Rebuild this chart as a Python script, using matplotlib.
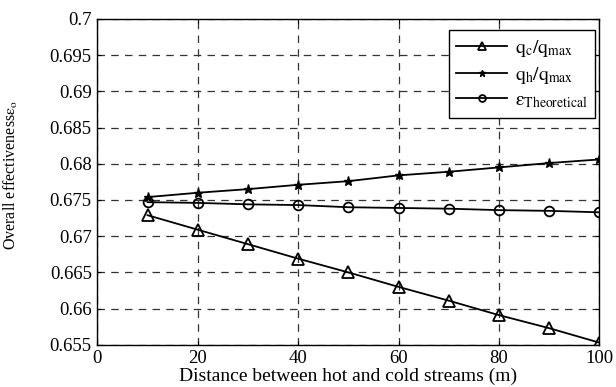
import numpy as np
import matplotlib.pyplot as plt

plt.rcParams['font.family'] = ['Liberation Serif', 'DejaVu Serif']
plt.rcParams['mathtext.fontset'] = 'stix'

# distance between streams (m)
distance = [10, 20, 30, 40, 50, 60, 70, 80, 90, 100]
# effectiveness values
qc_qmax = [0.6729, 0.6709, 0.6689, 0.6669, 0.6650, 0.6630, 0.6611, 0.6591, 0.6573, 0.6553]
qh_qmax = [0.6754, 0.6760, 0.6765, 0.6771, 0.6776, 0.6784, 0.6789, 0.6795, 0.6801, 0.6806]
eps_theo = [0.6747, 0.6746, 0.6744, 0.6743, 0.6740, 0.6739, 0.6738, 0.6736, 0.6735, 0.6733]

xticks = [0, 20, 40, 60, 80, 100]
yticks = [0.655, 0.66, 0.665, 0.67, 0.675, 0.68, 0.685, 0.69, 0.695, 0.7]
ytick_labels = ['0.655', '0.66', '0.665', '0.67', '0.675', '0.68', '0.685', '0.69', '0.695', '0.7']

fig = plt.figure(figsize=(6.16, 3.87), dpi=100)
ax = fig.add_axes([0.158, 0.109, 0.815, 0.842])

ax.plot(distance, qc_qmax, color='black', lw=1.3, marker='^', ms=8,
        mfc='none', mec='black', mew=1.3, label=r'$\mathrm{q_c/q_{max}}$')
ax.plot(distance, qh_qmax, color='black', lw=1.3, marker='*', ms=6.5,
        mfc='black', mec='black', label=r'$\mathrm{q_h/q_{max}}$')
ax.plot(distance, eps_theo, color='black', lw=1.3, marker='o', ms=7,
        mfc='none', mec='black', mew=1.3, label=r'$\mathrm{\varepsilon_{Theoretical}}$')

ax.set_xlim(0, 100)
ax.set_ylim(0.655, 0.7)
ax.set_xticks(xticks)
ax.set_yticks(yticks)
ax.set_yticklabels(ytick_labels)
ax.tick_params(direction='in', top=True, right=True, labelsize=13.5, length=3, pad=4)

ax.grid(True, color='#333333', linestyle=(0, (6, 5)), linewidth=0.9)
for s in ax.spines.values():
    s.set_linewidth(1.0)

ax.set_xlabel('Distance between hot and cold streams (m)', fontsize=14, labelpad=0)
ax.set_ylabel(r'Overall effectiveness$\mathrm{\varepsilon_o}$', fontsize=11.5)
ax.yaxis.set_label_coords(-0.155, 0.52)

leg = ax.legend(loc='upper right', bbox_to_anchor=(0.992, 0.966), borderaxespad=0,
                fontsize=14, frameon=True, fancybox=False, edgecolor='black',
                framealpha=1, handlelength=2.6, markerscale=0.7, labelspacing=0.3,
                borderpad=0.4, handletextpad=0.4)
leg.get_frame().set_linewidth(1.0)

fig.savefig('out.png', dpi=100)
